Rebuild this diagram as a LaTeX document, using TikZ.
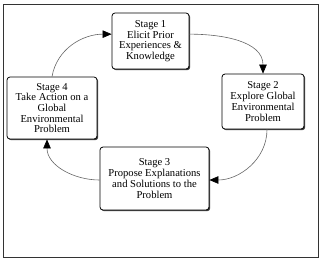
\documentclass[tikz,border=0pt]{standalone}
\usepackage{fontspec}
\setmainfont{Liberation Serif}
\usepackage{tikz}
\usetikzlibrary{arrows.meta, shadows}
\tikzset{
  stagebox/.style={
    rectangle, rounded corners=3pt, draw=black, line width=0.8pt, fill=white,
    align=center, inner sep=1pt,
    font=\fontsize{10.6}{10.7}\selectfont,
    drop shadow={shadow xshift=1.2pt, shadow yshift=-1.2pt, fill=black!75, opacity=1}
  },
  cycle/.style={-{Triangle[length=9pt, width=7.5pt, color=black]}, line width=0.6pt, color=black!60},
  frame/.style={draw=black!80, line width=0.8pt}
}
\begin{document}
\begin{tikzpicture}[x=1pt, y=-1pt]
  \useasboundingbox (0,0) rectangle (320,258);
  \draw[frame] (3,4) rectangle (318,257);

  \node[stagebox, minimum width=77pt, minimum height=56pt] (s1) at (150.5,41)
    {Stage 1\\Elicit Prior\\Experiences \&\\Knowledge};
  \node[stagebox, minimum width=82pt, minimum height=55pt] (s2) at (263,101.5)
    {Stage 2\\Explore Global\\Environmental\\Problem};
  \node[stagebox, minimum width=109pt, minimum height=63pt] (s3) at (154.5,178.5)
    {Stage 3\\Propose Explanations\\and Solutions to the\\Problem};
  \node[stagebox, minimum width=90pt, minimum height=62pt] (s4) at (52,108)
    {Stage 4\\Take Action on a\\Global\\Environmental\\Problem};

  \draw[cycle] (s4.north) to[out=80, in=180] (s1.170);
  \draw[cycle] (s1.10) to[out=0, in=90] (s2.north);
  \draw[cycle] ([xshift=4pt]s2.south) to[out=-90, in=0] ([yshift=-1.5pt]s3.east);
  \draw[cycle] ([yshift=-1.5pt]s3.west) to[out=180, in=-90] ([xshift=-5pt]s4.south);
\end{tikzpicture}
\end{document}
